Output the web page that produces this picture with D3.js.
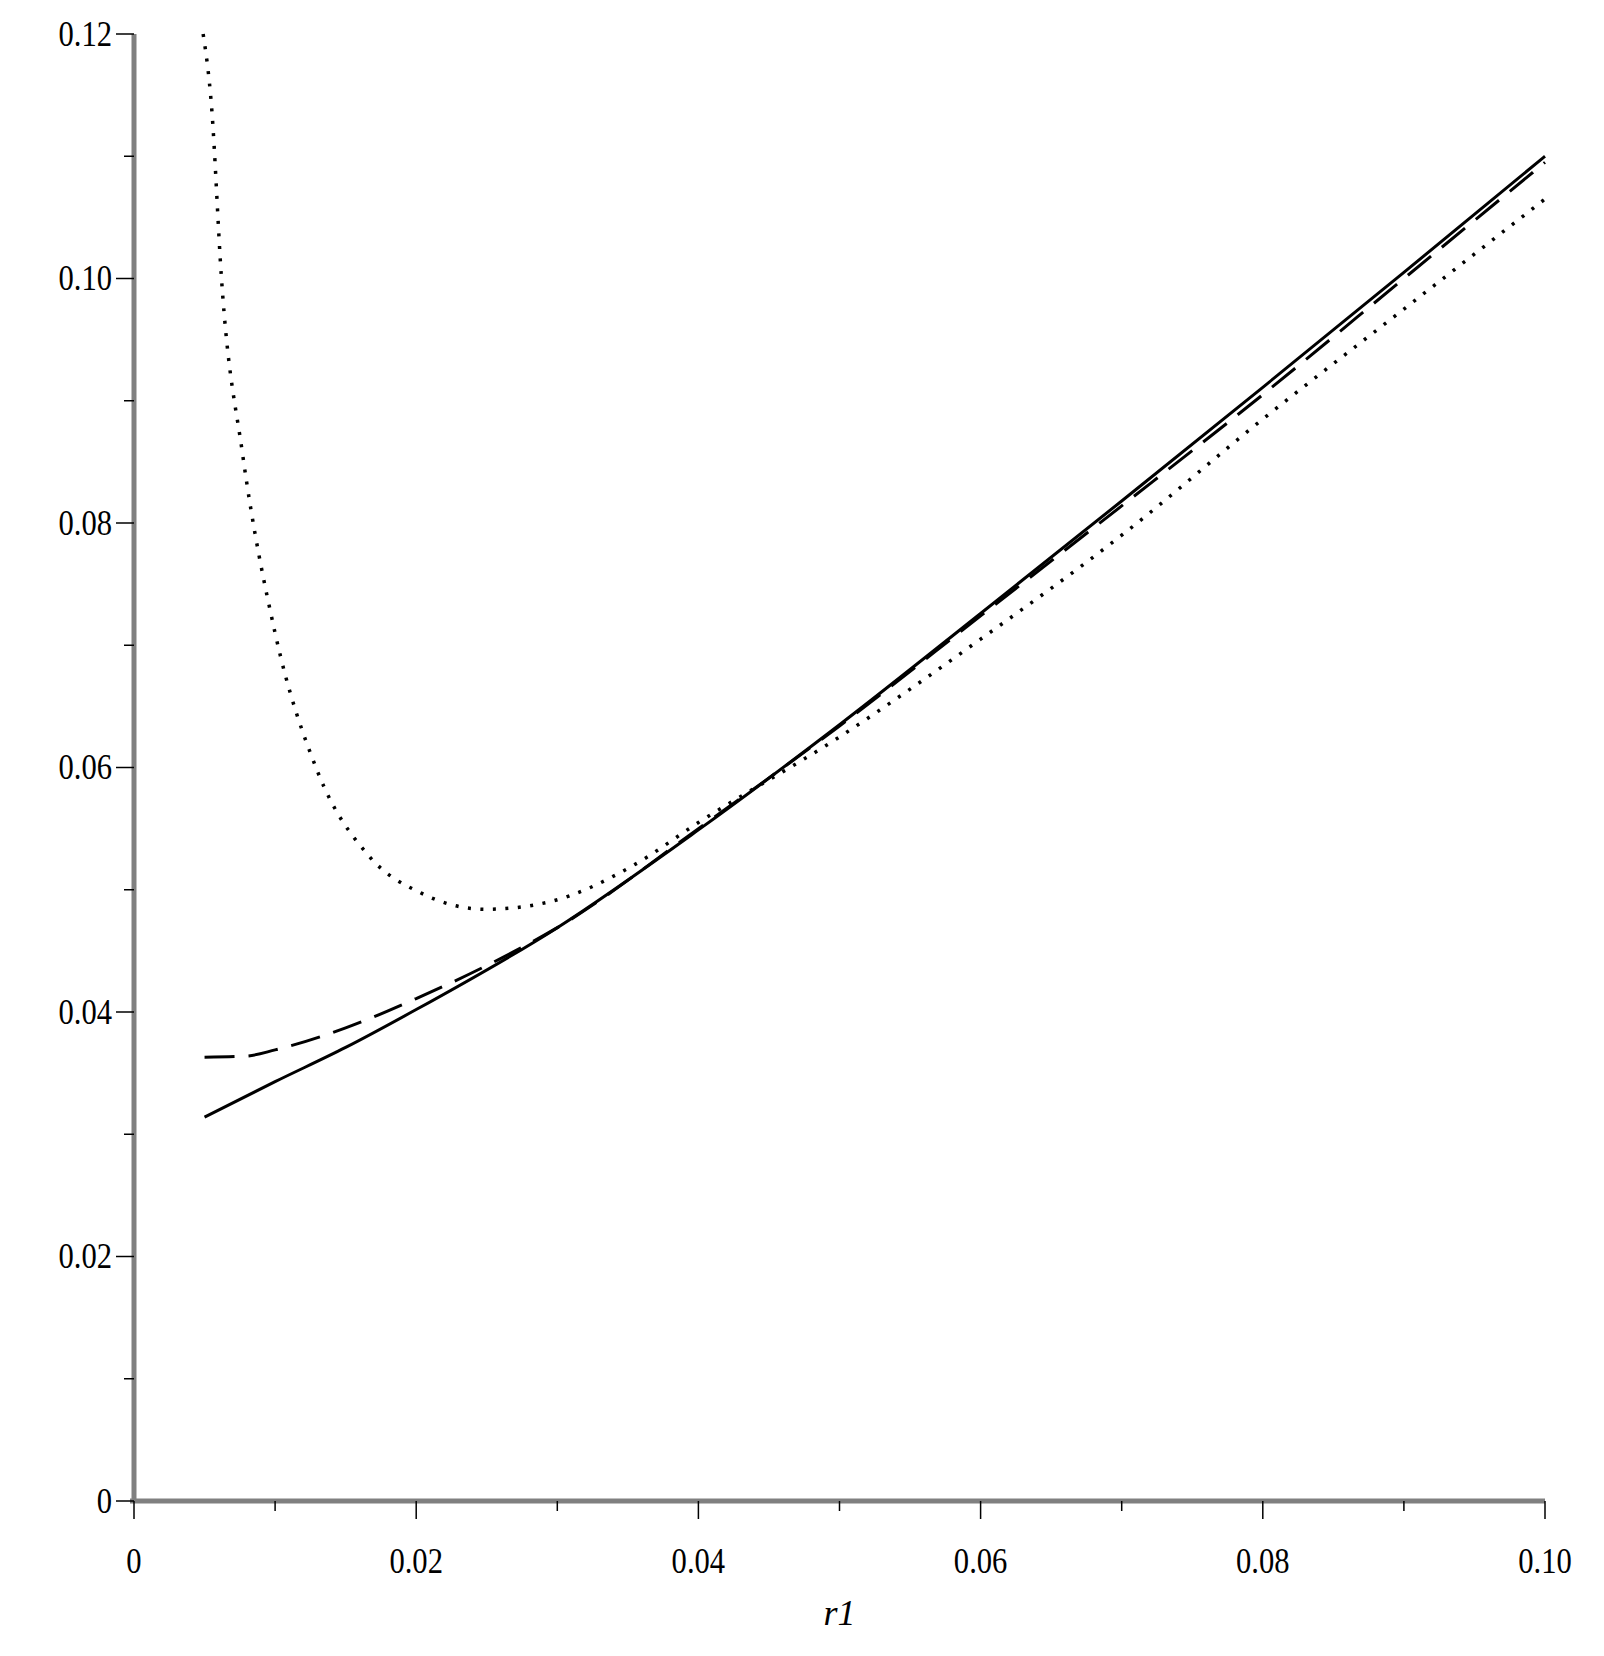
<!DOCTYPE html><html><head><meta charset="utf-8"><script src="https://d3js.org/d3.v7.min.js"></script>
<style>body{margin:0;background:#fff}</style></head><body><svg id="c" width="1604" height="1656"></svg>
<script>
const solidX=[0.005,0.01,0.015,0.02,0.03,0.04,0.05,0.06,0.07,0.08,0.09,0.10];
const solidY=[0.0314,0.0343,0.0371,0.0402,0.0469,0.0549,0.0635,0.0726,0.0818,0.0911,0.1005,0.1100];
const dashX=[0.005,0.008,0.01,0.015,0.02,0.025,0.03,0.04,0.05,0.06,0.07,0.08,0.09,0.10];
const dashY=[0.0363,0.0364,0.0369,0.0387,0.0411,0.0438,0.0469,0.0550,0.0634,0.0724,0.0814,0.0905,0.1000,0.1095];
const dotX=[0.0049,0.0055,0.0062,0.0077,0.010,0.013,0.0167,0.0204,0.0249,0.0294,0.0354,0.04,0.05,0.06,0.07,0.08,0.09,0.10];
const dotY=[0.120,0.114,0.100,0.0856,0.071,0.0597,0.0527,0.0497,0.0484,0.049,0.052,0.0555,0.0625,0.0705,0.079,0.0885,0.0975,0.1065];
const xTicks=[0,0.02,0.04,0.06,0.08,0.10], xLabels=["0","0.02","0.04","0.06","0.08","0.10"];
const yTicks=[0,0.02,0.04,0.06,0.08,0.10,0.12], yLabels=["0","0.02","0.04","0.06","0.08","0.10","0.12"];
const svg=d3.select("#c");
const x=d3.scaleLinear().domain([0,0.1]).range([134,1545]);
const y=d3.scaleLinear().domain([0,0.12]).range([1501,34]);
const font="'Liberation Serif',serif";
// axes lines
svg.append("line").attr("x1",x(0)).attr("x2",x(0)).attr("y1",y(0.12)).attr("y2",y(0)).attr("stroke","#808080").attr("stroke-width",5);
svg.append("line").attr("x1",x(0)-4).attr("x2",x(0.1)).attr("y1",y(0)).attr("y2",y(0)).attr("stroke","#808080").attr("stroke-width",5);
const minorX=d3.range(0,0.1001,0.01), minorY=d3.range(0,0.1201,0.01);
minorX.forEach((v,i)=>{svg.append("line").attr("x1",x(v)).attr("x2",x(v)).attr("y1",y(0)).attr("y2",y(0)+(i%2?10:18)).attr("stroke","#000").attr("stroke-width",1.5);});
minorY.forEach((v,i)=>{svg.append("line").attr("y1",y(v)).attr("y2",y(v)).attr("x1",x(0)).attr("x2",x(0)-(i%2?10:18)).attr("stroke","#000").attr("stroke-width",1.5);});
xTicks.forEach((v,i)=>svg.append("text").attr("x",x(v)).attr("y",y(0)+72).attr("text-anchor","middle").attr("font-family",font).attr("font-size",36).attr("transform",`translate(${x(v)},0) scale(0.85,1) translate(${-x(v)},0)`).text(xLabels[i]));
yTicks.forEach((v,i)=>svg.append("text").attr("x",x(0)-22).attr("y",y(v)+12).attr("text-anchor","end").attr("font-family",font).attr("font-size",36).attr("transform",`translate(${x(0)-22},0) scale(0.85,1) translate(${-(x(0)-22)},0)`).text(yLabels[i]));
svg.append("text").attr("x",x(0.05)).attr("y",1625).attr("text-anchor","middle").attr("font-family",font).attr("font-style","italic").attr("font-size",36).text("r1");
const line=d3.line().x(d=>x(d[0])).y(d=>y(d[1])).curve(d3.curveMonotoneX);
const add=(xs,ys,dash,w)=>svg.append("path").attr("d",line(xs.map((v,i)=>[v,ys[i]]))).attr("fill","none").attr("stroke","#000").attr("stroke-width",w).attr("stroke-dasharray",dash);
add(solidX,solidY,null,3);
add(dashX,dashY,"30,14",3);
add(dotX,dotY,"3,9.5",3.5);
</script></body></html>
